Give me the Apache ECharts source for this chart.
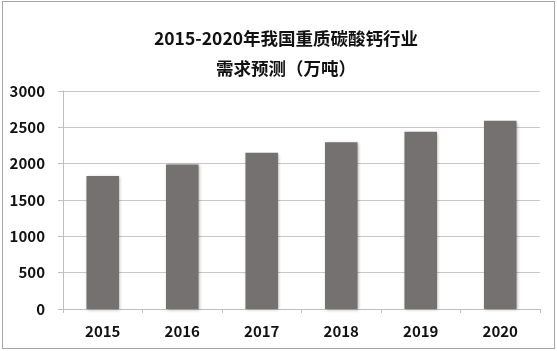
<!DOCTYPE html>
<html>
<head>
<meta charset="utf-8">
<script src="https://cdn.jsdelivr.net/npm/echarts@6/dist/echarts.min.js"></script>
<style>
    html, body { margin: 0; padding: 0; background: #fff; }
    #chart { width: 557px; height: 351px; }
    #frame { position: absolute; left: 2px; top: 1px; width: 551px; height: 346px; border: 1px solid #a6a6a6; pointer-events: none; }
</style>
</head>
<body>
<div id="chart"></div>
<div id="frame"></div>
<script>
// 年份与需求量（万吨）
const years = ["2015", "2016", "2017", "2018", "2019", "2020"];
const demand = [1830, 1990, 2150, 2295, 2440, 2590];

const fontFamily = '"Noto Sans CJK SC", "Open Sans", sans-serif';

let chart = echarts.init(document.getElementById("chart"), null, {renderer: "canvas"});

chart.setOption({
    animation: false,
    title: {
        text: "2015-2020年我国重质碳酸钙行业\n需求预测（万吨）",
        left: 281,
        textAlign: "center",
        top: 18,
        textStyle: {
            fontSize: 17.5,
            fontWeight: "bold",
            color: "#111",
            fontFamily: fontFamily,
            lineHeight: 30
        }
    },
    grid: {
        left: 63,
        right: 17,
        top: 91,
        bottom: 42
    },
    xAxis: {
        type: "category",
        data: years,
        axisLine: {lineStyle: {color: "#bfbfbf"}},
        axisTick: {show: true, length: 4, lineStyle: {color: "#bfbfbf"}},
        axisLabel: {
            fontSize: 15,
            fontWeight: "bold",
            color: "#111",
            fontFamily: fontFamily,
            margin: 15
        }
    },
    yAxis: {
        type: "value",
        min: 0,
        max: 3000,
        interval: 500,
        axisLine: {show: true, lineStyle: {color: "#bfbfbf"}},
        axisTick: {show: true, length: 5, lineStyle: {color: "#bfbfbf"}},
        splitLine: {lineStyle: {color: "#c8c8c8"}},
        axisLabel: {
            fontSize: 15,
            fontWeight: "bold",
            color: "#111",
            fontFamily: fontFamily,
            margin: 18,
            formatter: function (v) {
                return String(v);
            }
        }
    },
    series: [{
        type: "bar",
        data: demand,
        barWidth: "41%",
        itemStyle: {
            color: "#757171",
            shadowColor: "rgba(0,0,0,0.3)",
            shadowBlur: 3,
            shadowOffsetX: 1,
            shadowOffsetY: 1
        }
    }]
});
</script>
</body>
</html>
